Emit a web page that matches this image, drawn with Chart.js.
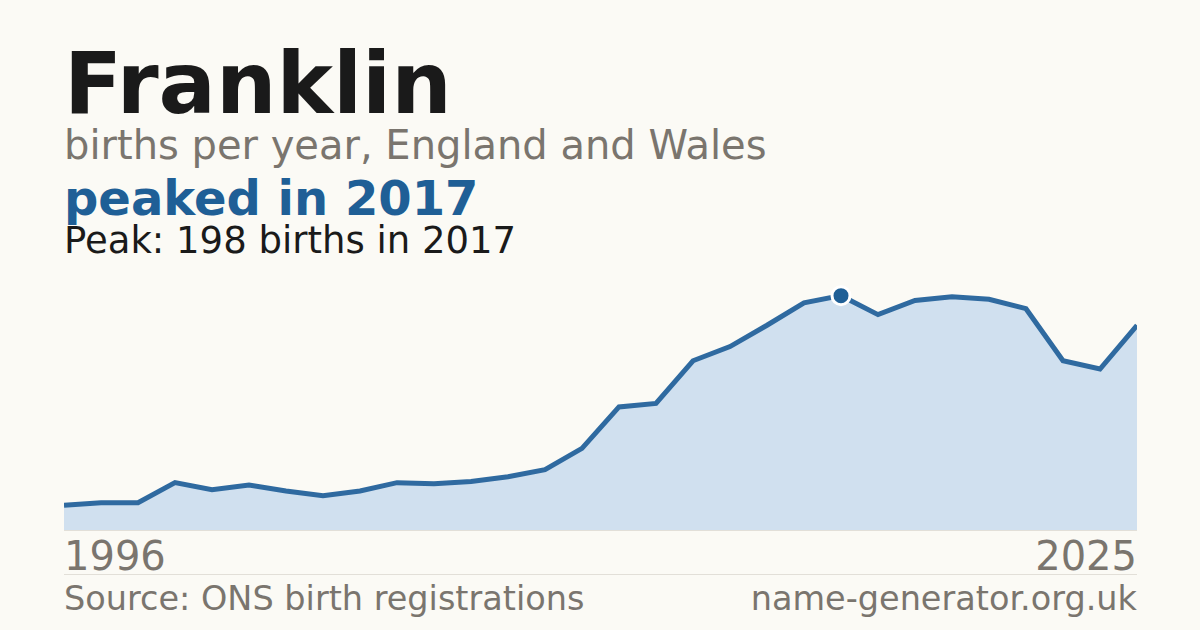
<!DOCTYPE html>
<html lang="en">
<head>
    <meta charset="UTF-8">
    <title>Franklin - births per year</title>
    <script src="https://cdn.jsdelivr.net/npm/chart.js"></script>
    <style>
        html, body { margin: 0; padding: 0; }
        body {
            width: 1200px; height: 630px; overflow: hidden;
            background: #fbfaf5; position: relative;
            font-family: "DejaVu Sans", sans-serif;
        }
        .t { position: absolute; left: 64px; line-height: 1; white-space: nowrap; }
        #title { top: 41px; font-size: 85px; font-weight: bold; color: #1a1a1a; }
        #sub { top: 125px; font-size: 40px; color: #7a756e; }
        #headline { top: 174px; font-size: 48px; font-weight: bold; color: #1f5f96; }
        #peak { top: 222px; font-size: 37px; color: #1a1a1a; }
        .axis { top: 536px; font-size: 40px; color: #7a756e; }
        .foot { top: 582px; font-size: 33.5px; color: #7a756e; }
        .right { left: auto; right: 63px; }
        #chartBox { position: absolute; left: 64px; top: 272px; width: 1073px; height: 258px; }
        #baseline { position: absolute; left: 64px; top: 530px; width: 1073px; height: 1px; background: #e2dfd8; }
        #rule { position: absolute; left: 64px; top: 574px; width: 1073px; height: 1px; background: #e2dfd8; }
    </style>
</head>
<body>
    <div class="t" id="title">Franklin</div>
    <div class="t" id="sub">births per year, England and Wales</div>
    <div class="t" id="headline">peaked in 2017</div>
    <div class="t" id="peak">Peak: 198 births in 2017</div>

    <div id="chartBox"><canvas id="namesChart"></canvas></div>
    <div id="baseline"></div>

    <div class="t axis" id="firstYear"></div>
    <div class="t axis right" id="lastYear"></div>
    <div id="rule"></div>
    <div class="t foot">Source: ONS birth registrations</div>
    <div class="t foot right">name-generator.org.uk</div>

    <script>
        // births per year
        const years = [1996, 1997, 1998, 1999, 2000, 2001, 2002, 2003, 2004, 2005,
                       2006, 2007, 2008, 2009, 2010, 2011, 2012, 2013, 2014, 2015,
                       2016, 2017, 2018, 2019, 2020, 2021, 2022, 2023, 2024, 2025];
        const births = [21, 23, 23, 40, 34, 38, 33, 29, 33, 40,
                        39, 41, 45, 51, 69, 104, 107, 143, 155, 173,
                        192, 198, 182, 194, 197, 195, 187, 143, 136, 173];
        const peakYear = 2017;
        const yMax = 218;

        document.getElementById('firstYear').textContent = years[0];
        document.getElementById('lastYear').textContent = years[years.length - 1];

        const peakIdx = years.indexOf(peakYear);

        const ctx = document.getElementById('namesChart').getContext('2d');
        const myChart = new Chart(ctx, {
            type: 'line',
            data: {
                labels: years,
                datasets: [{
                    data: births,
                    borderColor: '#2f6aa0',
                    backgroundColor: '#d0e0ef',
                    borderWidth: 5,
                    fill: 'origin',
                    tension: 0,
                    clip: false,
                    pointRadius: years.map((y, i) => i === peakIdx ? 9 : 0),
                    pointBackgroundColor: '#1f5f96',
                    pointBorderColor: '#ffffff',
                    pointBorderWidth: 3,
                    pointHoverRadius: 0
                }]
            },
            options: {
                responsive: true,
                maintainAspectRatio: false,
                animation: false,
                layout: { padding: 0 },
                plugins: {
                    legend: { display: false },
                    tooltip: { enabled: false }
                },
                scales: {
                    x: { display: false, offset: false },
                    y: { display: false, min: 0, max: yMax }
                }
            }
        });
    </script>
</body>
</html>
